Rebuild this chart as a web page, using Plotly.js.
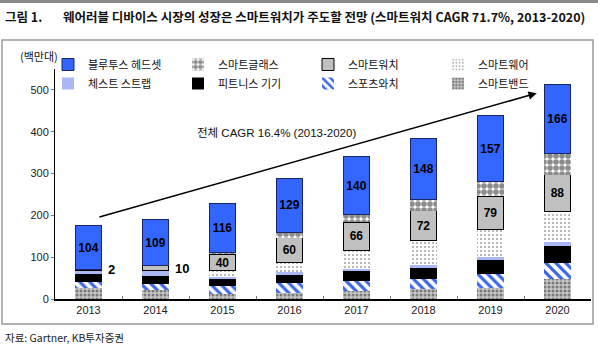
<!DOCTYPE html>
<html>
<head>
<meta charset="utf-8">
<script src="https://cdn.plot.ly/plotly-3.0.1.min.js"></script>
<style>
  html, body { margin: 0; padding: 0; background: #fff; }
  #chart { width: 598px; height: 351px; }
</style>
</head>
<body>
<div id="chart"></div>
<script>
// ---- data (millions of units) ----
const years = ['2013', '2014', '2015', '2016', '2017', '2018', '2019', '2020'];
const bluetoothHeadset = [104, 109, 116, 129, 140, 148, 157, 166];
const smartGlasses     = [0, 1, 5, 13, 18, 26, 35, 50];
const smartWatch       = [2, 10, 40, 60, 66, 72, 79, 88];
const smartWear        = [0, 2, 14, 23, 45, 58, 66, 73];
const chestStrap       = [9, 12, 6, 7, 6, 7, 8, 9];
const fitnessDevice    = [20, 20, 15, 19, 24, 25, 33, 41];
const sportsWatch      = [14, 13, 19, 24, 24, 26, 34, 38];
const smartBand        = [26, 22, 13, 14, 18, 23, 26, 48];
const seriesNames = ['블루투스 헤드셋', '스마트글래스', '스마트워치', '스마트웨어',
                     '체스트 스트랩', '피트니스 기기', '스포츠와치', '스마트밴드'];
const titleText = '웨어러블 디바이스 시장의 성장은 스마트워치가 주도할 전망 (스마트워치 CAGR 71.7%, 2013-2020)';
const cagrText = '전체 CAGR 16.4% (2013-2020)';

// ---- geometry helpers (plot area: l=55, r=7, t=69, b=52) ----
const W = 598, H = 351, ML = 55, MR = 7, MT = 69, MB = 52;
const PW = W - ML - MR, PH = H - MT - MB;
const px2x = p => (p - ML) / PW;
const px2y = p => (H - MB - p) / PH;

const labelFont = { family: 'Liberation Sans, Arial, sans-serif', size: 12, color: '#000', weight: 'bold' };
const base = { type: 'bar', x: years, hoverinfo: 'skip' };

const traces = [
  Object.assign({}, base, { name: seriesNames[7], y: smartBand,
    marker: { color: '#bdbdbd', line: { width: 0 },
      pattern: { shape: '.', fgcolor: '#7a7a7a', bgcolor: '#c8c8c8', size: 4, solidity: 0.45 } } }),
  Object.assign({}, base, { name: seriesNames[6], y: sportsWatch,
    marker: { color: '#3366ff', line: { width: 0 },
      pattern: { shape: '\\', fgcolor: '#3a66e8', bgcolor: '#ffffff', size: 7, solidity: 0.45 } } }),
  Object.assign({}, base, { name: seriesNames[5], y: fitnessDevice,
    marker: { color: '#000000', line: { width: 0 } } }),
  Object.assign({}, base, { name: seriesNames[4], y: chestStrap,
    marker: { color: '#a9b7f2', line: { width: 0 } } }),
  Object.assign({}, base, { name: seriesNames[3], y: smartWear,
    marker: { color: '#ffffff', line: { width: 0 },
      pattern: { shape: '.', fgcolor: '#a0a0a0', bgcolor: '#ffffff', size: 4, solidity: 0.2 } } }),
  Object.assign({}, base, { name: seriesNames[2], y: smartWatch,
    text: smartWatch.map(v => v >= 20 ? String(v) : ''),
    textposition: 'inside', insidetextanchor: 'middle', constraintext: 'none', textangle: 0,
    textfont: labelFont, texttemplate: '%{text}',
    marker: { color: '#c0c0c0', line: { width: 1, color: '#000' } } }),
  Object.assign({}, base, { name: seriesNames[1], y: smartGlasses,
    marker: { color: '#a0a0a0', line: { width: 0 },
      pattern: { shape: '.', fgcolor: '#8c8c8c', bgcolor: '#ffffff', size: 6, solidity: 0.7 } } }),
  Object.assign({}, base, { name: seriesNames[0], y: bluetoothHeadset,
    text: bluetoothHeadset.map(String),
    textposition: 'inside', insidetextanchor: 'middle', constraintext: 'none', textangle: 0,
    textfont: labelFont, texttemplate: '%{text}',
    marker: { color: '#3366ff', line: { width: 1, color: '#1a2466' } } })
];

// outside labels for small smart-watch values
const annotations = [];
years.forEach((yr, i) => {
  if (smartWatch[i] < 20) {
    const below = smartBand[i] + sportsWatch[i] + fitnessDevice[i] + chestStrap[i] + smartWear[i];
    annotations.push({ x: i, y: below + smartWatch[i] / 2, xref: 'x', yref: 'y',
      text: String(smartWatch[i]), showarrow: false, xanchor: 'left', yanchor: 'middle', xshift: 17,
      font: { family: 'Liberation Sans, Arial, sans-serif', size: 13, color: '#000', weight: 'bold' } });
  }
});

// CAGR arrow
annotations.push({ x: 6.69, y: 492, xref: 'x', yref: 'y', ax: 0.14, ay: 195, axref: 'x', ayref: 'y',
  showarrow: true, arrowhead: 2, arrowsize: 1.1, arrowwidth: 1.5, arrowcolor: '#000', standoff: 0, text: '' });
annotations.push({ x: 2.8, y: 397, xref: 'x', yref: 'y', text: cagrText, showarrow: false,
  xanchor: 'center', yanchor: 'middle',
  font: { family: 'Liberation Sans, "Noto Sans CJK KR", sans-serif', size: 11.5, color: '#111' } });

// unit label
annotations.push({ x: px2x(39), y: px2y(56), xref: 'paper', yref: 'paper', text: '(백만대)', showarrow: false,
  xanchor: 'center', yanchor: 'middle',
  font: { family: '"Noto Sans CJK KR", sans-serif', size: 11, color: '#111' } });

// title & source
annotations.push({ x: px2x(3), y: px2y(16), xref: 'paper', yref: 'paper', xanchor: 'left', yanchor: 'middle',
  text: '그림 1.', showarrow: false,
  font: { family: '"Noto Sans CJK KR", sans-serif', size: 12.5, color: '#111', weight: 'bold' } });
annotations.push({ x: px2x(61), y: px2y(16), xref: 'paper', yref: 'paper', xanchor: 'left', yanchor: 'middle',
  text: titleText, showarrow: false,
  font: { family: '"Noto Sans CJK KR", sans-serif', size: 12.5, color: '#111', weight: 'bold' } });
annotations.push({ x: px2x(3), y: px2y(337), xref: 'paper', yref: 'paper', xanchor: 'left', yanchor: 'middle',
  text: '자료: Gartner, KB투자증권', showarrow: false,
  font: { family: '"Noto Sans CJK KR", sans-serif', size: 10.5, color: '#222' } });

const shapes = [
  { type: 'line', xref: 'paper', yref: 'paper', x0: px2x(0), x1: px2x(598), y0: px2y(1.5), y1: px2y(1.5),
    layer: 'above', line: { color: '#8a8a8a', width: 3 } },
  { type: 'rect', xref: 'paper', yref: 'paper', x0: px2x(2), x1: px2x(593), y0: px2y(40), y1: px2y(324),
    layer: 'above', line: { color: '#9a9a9a', width: 1.5 } }
];

const layout = {
  width: W, height: H,
  margin: { l: ML, r: MR, t: MT, b: MB, pad: 0 },
  paper_bgcolor: '#fff', plot_bgcolor: '#fff',
  barmode: 'stack', bargap: 0.6,
  showlegend: true,
  legend: { orientation: 'h', traceorder: 'reversed', x: px2x(48), xanchor: 'left', y: px2y(50), yanchor: 'top',
    entrywidth: 85, bgcolor: 'rgba(0,0,0,0)', itemclick: false,
    font: { family: '"Noto Sans CJK KR", sans-serif', size: 11, color: '#111' } },
  xaxis: { type: 'category', showline: true, linecolor: '#000', linewidth: 1.5, ticks: 'inside', tickson: 'boundaries',
    ticklen: 3, tickcolor: '#777', showgrid: false, zeroline: false,
    tickfont: { family: 'Liberation Sans, Arial, sans-serif', size: 11, color: '#222' } },
  yaxis: { range: [0, 550], tickvals: [0, 100, 200, 300, 400, 500], showline: true, linecolor: '#000', linewidth: 1,
    ticks: 'outside', ticklen: 3, tickcolor: '#777', showgrid: false, zeroline: false,
    tickfont: { family: 'Liberation Sans, Arial, sans-serif', size: 11, color: '#222' } },
  annotations: annotations,
  shapes: shapes
};

Plotly.newPlot('chart', traces, layout, { displayModeBar: false, staticPlot: true });
</script>
</body>
</html>
